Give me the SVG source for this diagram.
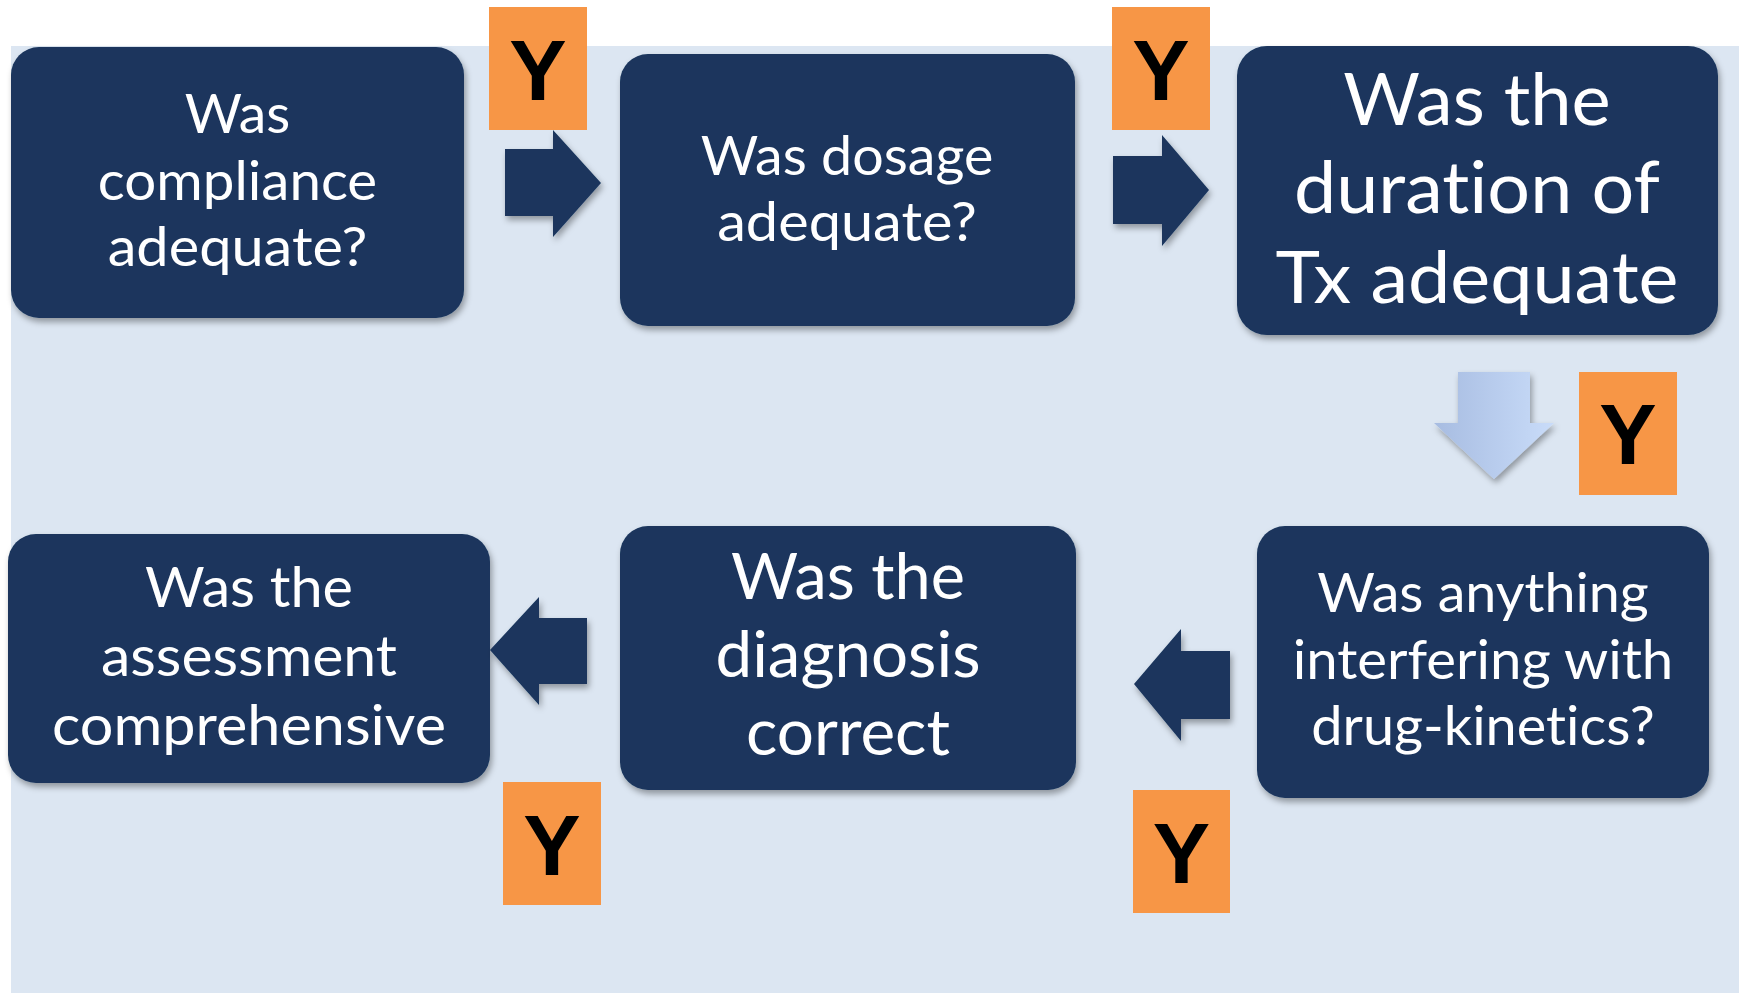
<svg xmlns="http://www.w3.org/2000/svg" width="1739" height="993" viewBox="0 0 1739 993">
  <style>
    .box { fill: #1A365D; filter: url(#shadow); }
    .arrow { fill: #1A365D; filter: url(#shadow); }
    .q { fill: #FFFFFF; font-family: Lato, "Open Sans", sans-serif; text-anchor: middle; font-variant-ligatures: none; font-feature-settings: "liga" 0, "dlig" 0; }
    .s60 { font-size: 54px; }
    .s62 { font-size: 56px; }
    .s70 { font-size: 63px; }
    .s80 { font-size: 72px; }
    .tag { fill: #F79646; }
    .yes { fill: #000000; font-family: "Liberation Sans", Arial, sans-serif; font-weight: bold; font-size: 86px; text-anchor: middle; }
  </style>
  <defs>
    <filter id="shadow" x="-10%" y="-10%" width="125%" height="130%">
      <feDropShadow dx="2" dy="4" stdDeviation="3" flood-color="#000000" flood-opacity="0.35"/>
    </filter>
    <linearGradient id="downFill" x1="0" y1="0" x2="1" y2="0">
      <stop offset="0" stop-color="#A7BCE1"/>
      <stop offset="1" stop-color="#C9DCF9"/>
    </linearGradient>
  </defs>

  <!-- page -->
  <rect x="0" y="0" width="1739" height="993" fill="#FFFFFF"/>
  <rect x="11" y="46" width="1728" height="947" fill="#DCE6F2"/>

  <!-- question boxes -->
  <g id="node-compliance">
    <rect class="box" x="11" y="47" width="453" height="271" rx="28"/>
    <text class="q s60" x="237.5" y="133" textLength="105.6" lengthAdjust="spacingAndGlyphs">Was</text>
    <text class="q s60" x="237.5" y="200" textLength="279.4" lengthAdjust="spacingAndGlyphs">compliance</text>
    <text class="q s60" x="237.5" y="266" textLength="259.6" lengthAdjust="spacingAndGlyphs">adequate?</text>
  </g>

  <g id="node-dosage">
    <rect class="box" x="620" y="54" width="455" height="272" rx="28"/>
    <text class="q s60" x="847" y="175" textLength="292.6" lengthAdjust="spacingAndGlyphs">Was dosage</text>
    <text class="q s60" x="847" y="241" textLength="259.6" lengthAdjust="spacingAndGlyphs">adequate?</text>
  </g>

  <g id="node-duration">
    <rect class="box" x="1237" y="46" width="481" height="289" rx="30"/>
    <text class="q s80" x="1477" y="125" textLength="267.5" lengthAdjust="spacingAndGlyphs">Was the</text>
    <text class="q s80" x="1477" y="213" textLength="366" lengthAdjust="spacingAndGlyphs">duration of</text>
    <text class="q s80" x="1477" y="303" textLength="403" lengthAdjust="spacingAndGlyphs">Tx adequate</text>
  </g>

  <g id="node-kinetics">
    <rect class="box" x="1257" y="526" width="452" height="272" rx="28"/>
    <text class="q s60" x="1483" y="612" textLength="331.7" lengthAdjust="spacingAndGlyphs">Was anything</text>
    <text class="q s60" x="1483" y="679" textLength="380.6" lengthAdjust="spacingAndGlyphs">interfering with</text>
    <text class="q s60" x="1483" y="745" textLength="343.4" lengthAdjust="spacingAndGlyphs">drug-kinetics?</text>
  </g>

  <g id="node-diagnosis">
    <rect class="box" x="620" y="526" width="456" height="264" rx="28"/>
    <text class="q s70" x="848" y="599" textLength="234" lengthAdjust="spacingAndGlyphs">Was the</text>
    <text class="q s70" x="848" y="677" textLength="265" lengthAdjust="spacingAndGlyphs">diagnosis</text>
    <text class="q s70" x="848" y="755" textLength="204" lengthAdjust="spacingAndGlyphs">correct</text>
  </g>

  <g id="node-assessment">
    <rect class="box" x="8" y="534" width="482" height="249" rx="28"/>
    <text class="q s62" x="249" y="607" textLength="208" lengthAdjust="spacingAndGlyphs">Was the</text>
    <text class="q s62" x="249" y="676" textLength="296" lengthAdjust="spacingAndGlyphs">assessment</text>
    <text class="q s62" x="249" y="745" textLength="394" lengthAdjust="spacingAndGlyphs">comprehensive</text>
  </g>

  <!-- block arrows with their "Y" tags -->
  <g id="connectors">
    <path class="arrow" d="M505,149 L553,149 L553,130 L601,183 L553,237 L553,216 L505,216 Z"/>
    <rect class="tag" x="489" y="7" width="98" height="123"/>
    <text class="yes" x="538" y="100">Y</text>

    <path class="arrow" d="M1113,156 L1162,156 L1162,135 L1209,190 L1162,246 L1162,224 L1113,224 Z"/>
    <rect class="tag" x="1112" y="7" width="98" height="123"/>
    <text class="yes" x="1161" y="100">Y</text>

    <path d="M1458,372 L1530,372 L1530,423 L1554,423 L1494,479 L1434,423 L1458,423 Z" fill="url(#downFill)" filter="url(#shadow)"/>
    <rect class="tag" x="1579" y="372" width="98" height="123"/>
    <text class="yes" x="1628" y="464">Y</text>

    <path class="arrow" d="M1230,651 L1181,651 L1181,629 L1134,684 L1181,741 L1181,719 L1230,719 Z"/>
    <rect class="tag" x="1133" y="790" width="97" height="123"/>
    <text class="yes" x="1181.5" y="883">Y</text>

    <path class="arrow" d="M587,618 L539,618 L539,597 L490,650 L539,705 L539,684 L587,684 Z"/>
    <rect class="tag" x="503" y="782" width="98" height="123"/>
    <text class="yes" x="552" y="875">Y</text>
  </g>
</svg>
